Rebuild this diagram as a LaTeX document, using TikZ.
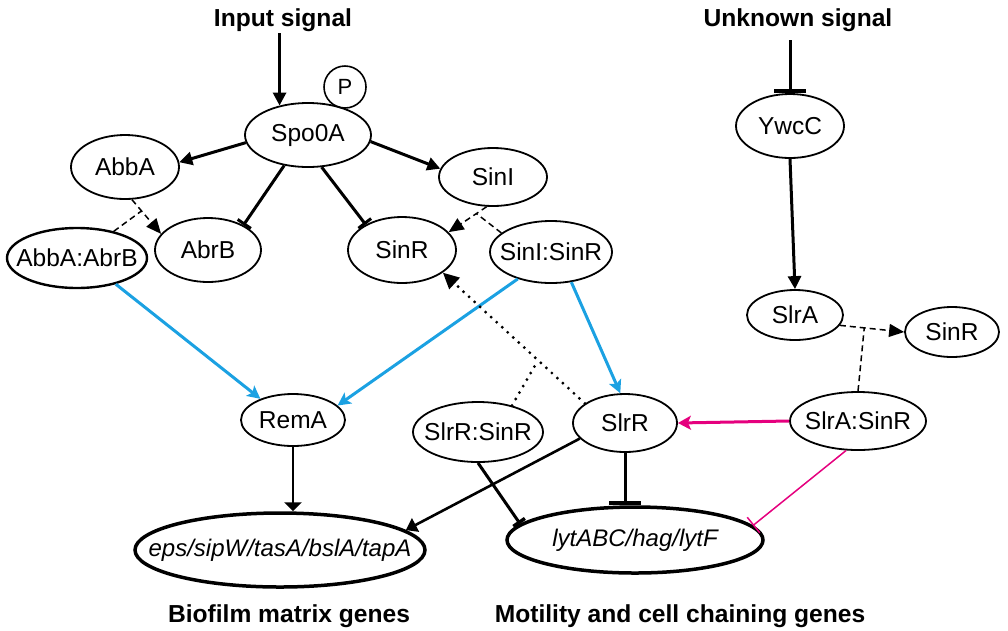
\documentclass[tikz,border=0pt]{standalone}
\usepackage{fontspec}
\setmainfont{Liberation Sans}
\usetikzlibrary{arrows.meta,shapes.geometric,calc}
\definecolor{cblue}{HTML}{1BA1E2}
\definecolor{cmag}{HTML}{E5007E}
\newcommand\lbl[1]{\makebox[0pt]{#1}}
\begin{document}
\begin{tikzpicture}[x=1pt,y=-1pt,
  ell/.style={draw, ellipse, line width=1.8pt, inner sep=0pt, font=\fontsize{24.5}{28}\selectfont},
  sz/.style n args={2}{minimum width=#1pt, minimum height=#2pt},
  gene/.style={ell, line width=3.5pt, font=\fontsize{24}{28}\selectfont\itshape},
  title/.style={font=\fontsize{24.6}{28}\selectfont\bfseries, inner sep=0pt, anchor=base},
  act/.style={line width=3pt, -{Triangle[length=13pt,width=13pt]}},
  inh/.style={line width=3pt, -{Bar[width=16pt,line width=3pt]}},
  bigT/.style={line width=3pt, -{Bar[width=32pt,line width=4.5pt]}},
  blu/.style={cblue, line width=3pt, -{Stealth[length=13pt,width=13pt,inset=3pt]}},
  dsh/.style={line width=1.5pt, dash pattern=on 6pt off 4pt},
  dtd/.style={line width=3.2pt, line cap=round, dash pattern=on 0pt off 7.5pt}
]
\useasboundingbox (0,0) rectangle (1008,630);

% titles
\node[title] (insig) at (283,26) {Input signal};
\node[title] (unk) at (798,26) {Unknown signal};
\node[title] (biof) at (289,622) {Biofilm matrix genes};
\node[title] (moti) at (680,622) {Motility and cell chaining genes};

% nodes
\node[ell, sz={126}{64}] (spo) at (308,135) {\lbl{Spo0A}};
\node[draw, circle, line width=1.6pt, minimum size=42pt, inner sep=0pt, font=\fontsize{22}{26}\selectfont] (p) at (345,87) {P};
\node[ell, sz={108}{64}] (abba) at (125,167) {\lbl{AbbA}};
\node[ell, sz={140}{60}, line width=2.4pt] (abbaabrb) at (77,258) {\lbl{AbbA:AbrB}};
\node[ell, sz={106}{64}] (abrb) at (208,250) {\lbl{AbrB}};
\node[ell, sz={108}{66}] (sinr) at (402,250) {\lbl{SinR}};
\node[ell, sz={108}{58}] (sini) at (493,177) {\lbl{SinI}};
\node[ell, sz={122}{62}] (sinisinr) at (551,252) {\lbl{SinI:SinR}};
\node[ell, sz={104}{52}] (rema) at (293,420) {\lbl{RemA}};
\node[ell, sz={130}{60}] (slrrsinr) at (478,432) {\lbl{SlrR:SinR}};
\node[ell, sz={104}{58}] (slrr) at (625,423) {\lbl{SlrR}};
\node[ell, sz={108}{64}] (ywcc) at (790,126) {\lbl{YwcC}};
\node[ell, sz={96}{50}] (slra) at (795,315) {\lbl{SlrA}};
\node[ell, sz={94}{50}] (sinr2) at (952,332) {\lbl{SinR}};
\node[ell, sz={136}{58}] (slrasinr) at (858,421) {\lbl{SlrA:SinR}};
\node[gene, sz={290}{74}] (eps) at (280,550) {\lbl{eps/sipW/tasA/bslA/tapA}};
\node[gene, sz={256}{66}] (lyt) at (635,540) {\lbl{lytABC/hag/lytF}};

% top-left network
\draw[act] ([yshift=-2pt]insig.south -| spo.134) -- (spo.134);
\draw[act] (spo.187) -- (abba.5);
\draw[inh] (spo.232) -- (abrb.35);
\draw[inh] (spo.-67) -- (sinr.145);
\draw[act] (spo.-6) -- (sini.171);

\coordinate (j1) at ($(abba.-78)!0.33!(abrb.161)$);
\draw[dsh, -{Triangle[length=15pt,width=13pt]}] (abba.-78) -- (abrb.161);
\draw[dsh] (abbaabrb.36) -- (j1);

\coordinate (j2) at ($(sini.-102)!0.27!(sinr.21)$);
\draw[dsh, -{Triangle[length=15pt,width=13pt]}] (sini.-102) -- (sinr.21);
\draw[dsh] (sinisinr.159) -- (j2);

% blue
\draw[blu] (abbaabrb.-34) -- (rema.147);
\draw[blu] (sinisinr.219) -- (rema.18);
\draw[blu] (sinisinr.-56) -- (slrr.99);

% dotted
\coordinate (j3) at ($(slrr.154)!0.33!(sinr.-29)$);
\draw[dtd, -{Triangle[length=16pt,width=15pt]}] (slrr.154) -- (sinr.-29);
\draw[dtd] (slrrsinr.38) -- (j3);

% bottom
\draw[line width=2.6pt, -{Triangle[length=9pt,width=17pt]}] (rema.south) -- (rema.south |- eps.north);
\draw[line width=2.6pt, -{Triangle[length=11pt,width=15pt]}] (slrr.199) -- (eps.9);
\draw[line width=3pt, -{Bar[width=14pt,line width=3.5pt]}] (slrrsinr.south) -- (lyt.172);
\draw[bigT] (slrr.south) -- (slrr.south |- lyt.north);

% right network
\draw[bigT] ([yshift=-9pt]unk.south -| ywcc.north) -- (ywcc.north);
\draw[act] (ywcc.south) -- (slra.north);
\coordinate (j4) at ($(slra.-13)!0.38!(sinr2.west)$);
\draw[dsh, -{Triangle[length=15pt,width=13pt]}] (slra.-13) -- (sinr2.west);
\draw[dsh] (slrasinr.north) -- (j4);

\draw[cmag, line width=3pt, -{Stealth[length=13pt,width=14pt,inset=3pt]}] (slrasinr.west) -- (slrr.east);
\draw[cmag, line width=1.5pt, -{Bar[width=20pt,line width=1.5pt]}] (slrasinr.-112) -- (lyt.7);
\end{tikzpicture}
\end{document}
